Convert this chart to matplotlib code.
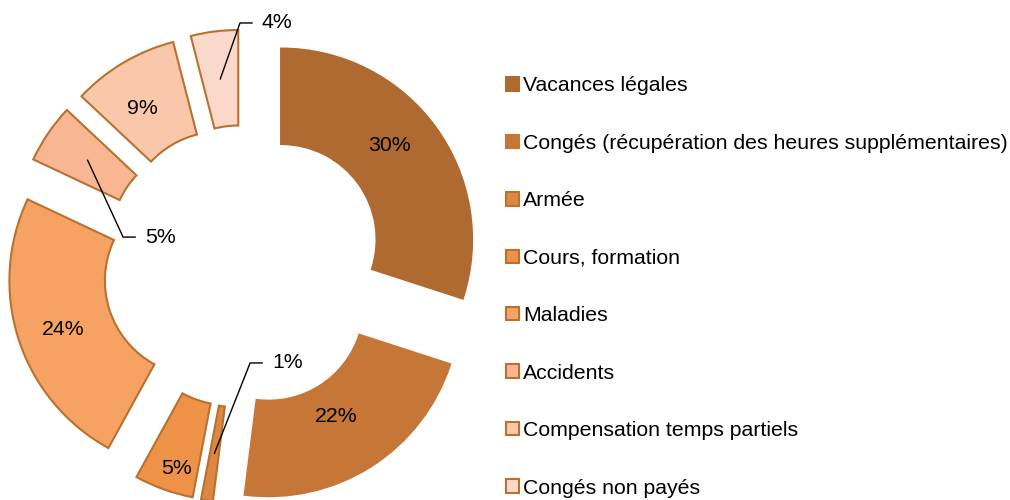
import numpy as np
import matplotlib
matplotlib.use("Agg")
import matplotlib.pyplot as plt

plt.rcParams['font.family'] = ['Liberation Sans', 'DejaVu Sans']

# data
categories = ['Vacances légales',
              'Congés (récupération des heures supplémentaires)',
              'Armée',
              'Cours, formation',
              'Maladies',
              'Accidents',
              'Compensation temps partiels',
              'Congés non payés']
values = [30, 22, 1, 5, 24, 5, 9, 4]
colors = ['#AE6A30', '#C67636', '#DC8742', '#EE9248',
          '#F6A263', '#F8B792', '#F9C8AB', '#FAD9CA']
edge = '#B8712F'

# layout (pixels in a 1010x500 figure)
W, H = 1010, 500
CX, CY = 244, 266.5      # pie centre, px from top-left
SCALE = 191              # px per data unit (outer radius = 1)
LIM = 1.4
FS = 15.3

# label text positions in data units; leader=True draws a callout line
label_pos = [(0.764, 0.631), (0.485, -0.786), (0.147, -0.505), (-0.355, -1.055),
             (-0.948, -0.332), (-0.518, 0.154), (-0.530, 0.828), (0.094, 1.275)]
leader = [False, False, True, False, False, True, False, True]

fig = plt.figure(figsize=(W / 100, H / 100), dpi=100)
size = 2 * LIM * SCALE
ax = fig.add_axes([(CX - size / 2) / W, (H - CY - size / 2) / H, size / W, size / H])

wedges, _ = ax.pie(values, colors=colors, startangle=90, counterclock=False,
                   explode=[0.24] * len(values), radius=1,
                   wedgeprops=dict(width=0.5, linewidth=1.5, edgecolor=edge))
for w, c in zip(wedges[:2], colors[:2]):
    w.set_edgecolor(c)

ax.set_xlim(-LIM, LIM)
ax.set_ylim(-LIM, LIM)
ax.set_aspect('equal', adjustable='box')
ax.axis('off')

for w, v, (tx, ty), ld in zip(wedges, values, label_pos, leader):
    txt = f"{v}%"
    if ld:
        mid = np.deg2rad((w.theta1 + w.theta2) / 2)
        ax0 = w.center[0] + 0.75 * np.cos(mid)
        ay0 = w.center[1] + 0.75 * np.sin(mid)
        bx = tx - 0.115
        ax.plot([ax0, bx, bx + 0.063], [ay0, ty, ty], color='black', lw=1)
        ax.text(tx, ty, txt, ha='left', va='center', fontsize=FS)
    else:
        ax.text(tx, ty, txt, ha='center', va='center', fontsize=FS)

fig.legend(wedges, categories, loc='center left',
           bbox_to_anchor=(506 / W, 1 - 287 / H), bbox_transform=fig.transFigure,
           frameon=False, fontsize=FS, handlelength=0.6, handleheight=0.6,
           handletextpad=0.2, labelspacing=1.81, borderpad=0, borderaxespad=0)

fig.savefig('out.png', dpi=100)
